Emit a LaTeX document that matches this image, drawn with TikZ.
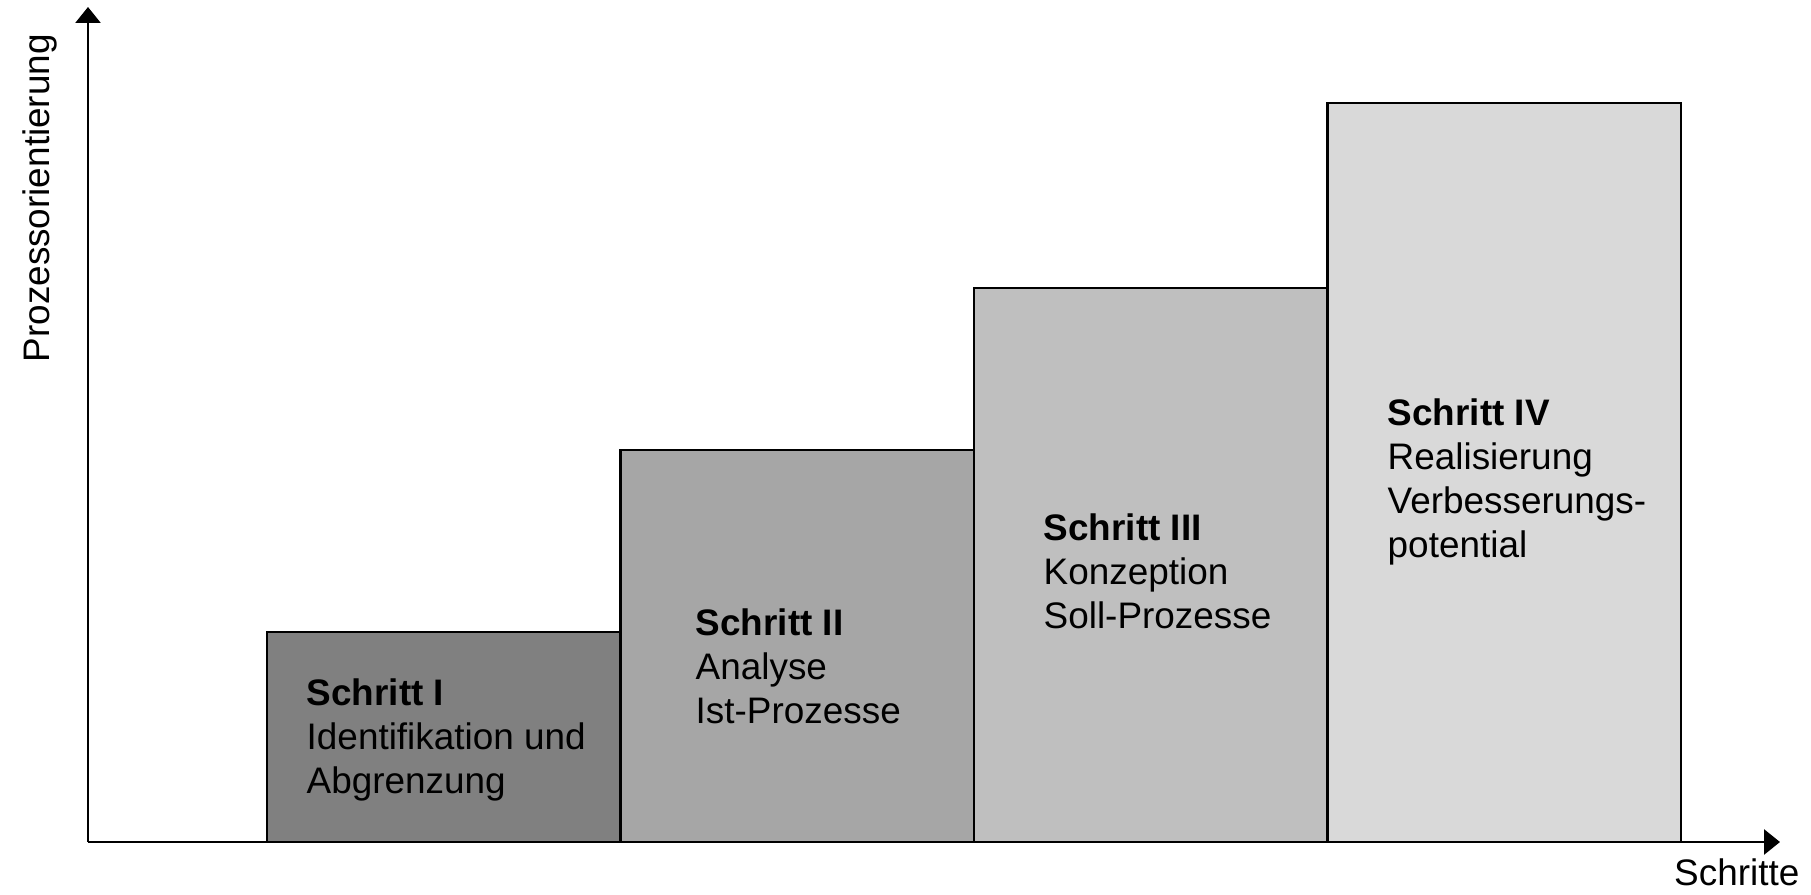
\documentclass[tikz,border=0pt]{standalone}
\usepackage{fontspec}
\setmainfont{Liberation Sans}
\usetikzlibrary{arrows.meta}

\definecolor{stepI}{gray}{0.50}
\definecolor{stepII}{gray}{0.65}
\definecolor{stepIII}{gray}{0.75}
\definecolor{stepIV}{gray}{0.85}

\begin{document}
\begin{tikzpicture}[stepbox/.style={draw=black, line width=0.8pt, anchor=south west, minimum width=3.535cm, inner sep=0pt, outer sep=0pt},
		steptext/.style={anchor=base west, align=left, inner sep=0pt, font=\fontsize{10.5}{12.5}\selectfont},
		axislabel/.style={inner sep=0pt, font=\fontsize{10.5}{12.5}\selectfont},
		axis/.style={line width=0.8pt, -{Triangle[width=0.25cm, length=0.16cm]}}]
		\useasboundingbox (0,0) rectangle (18.11,8.94);
		
		\coordinate	(o)	at (0.88,0.52);
		\coordinate	(ytop)	at (0.88,8.87);
		\coordinate	(xend)	at (17.80,0.52);
		
		\node[stepbox, fill=stepI, minimum height=2.10cm]	(s1) at (2.67,0.52)	{};
		\node[stepbox, fill=stepII, minimum height=3.92cm]	(s2) at (s1.south east)	{};
		\node[stepbox, fill=stepIII, minimum height=5.54cm]	(s3) at (s2.south east)	{};
		\node[stepbox, fill=stepIV, minimum height=7.39cm]	(s4) at (s3.south east)	{};
		
		% base of the last line
		\node[steptext]	(t1) at (3.06,1.01)	{\textbf{Schritt I}\\Identifikation und\\Abgrenzung};
		\node[steptext]	(t2) at (6.95,1.71)	{\textbf{Schritt II}\\Analyse\\Ist-Prozesse};
		\node[steptext]	(t3) at (10.43,2.66)	{\textbf{Schritt III}\\Konzeption\\Soll-Prozesse};
		\node[steptext]	(t4) at (13.87,3.37)	{\textbf{Schritt IV}\\Realisierung\\Verbesserungs-\\potential};
		
		\draw[axis] (o) -- (ytop);
		\draw[axis] (o) -- (xend);
		
		\node[axislabel, rotate=90, anchor=base west]	(ylab) at (0.49,5.31)	{Prozessorientierung};
		\node[axislabel, anchor=base east]	(xlab) at (18.00,0.09)	{Schritte};
		
		\end{tikzpicture}
\end{document}
